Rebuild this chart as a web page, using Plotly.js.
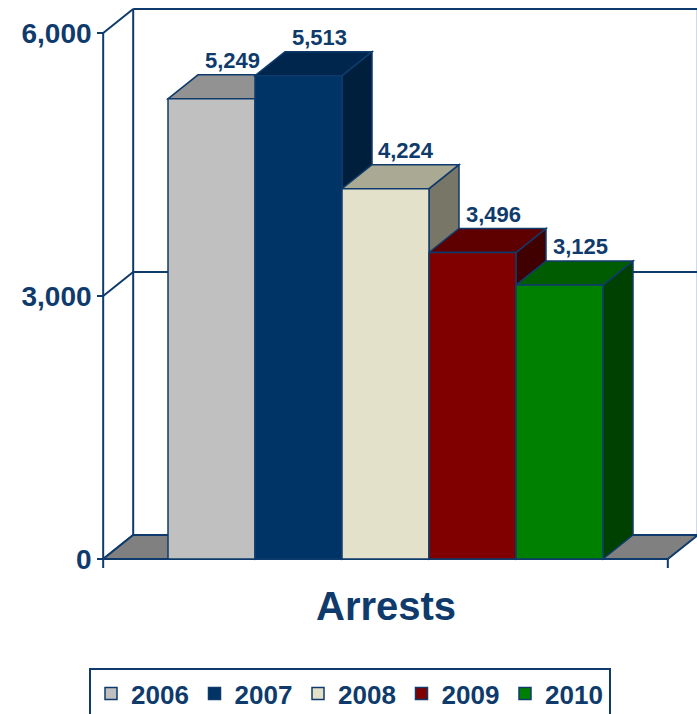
<!DOCTYPE html>
<html>
<head>
<meta charset="utf-8">
<script src="https://cdn.plot.ly/plotly-3.0.1.min.js"></script>
<style>html,body{margin:0;padding:0;background:#fff;}#chart{width:697px;height:714px;}</style>
</head>
<body>
<div id="chart"></div>
<script>
// ---------- data ----------
const years = ['2006', '2007', '2008', '2009', '2010'];
const arrests = [5249, 5513, 4224, 3496, 3125];
const categories = ['Arrests'];
const yTickVals = [0, 3000, 6000];
const yTickText = ['0', '3,000', '6,000'];

// ---------- styles ----------
const navy = '#0F3B6C';
const frontColors = ['#C0C0C0', '#003366', '#E3E1C9', '#800000', '#008000'];
const topColors   = ['#929292', '#00264D', '#AAA993', '#5E0000', '#005C00'];
const sideColors  = ['#6E6E6E', '#001F3D', '#787666', '#400000', '#004000'];
const floorColor = '#808080';
const fontFam = '"Liberation Sans", Arial, sans-serif';

// ---------- geometry (layout) ----------
const W = 697, H = 714;
const pxPerCat = 87;           // pixels per category unit
const bar0Px = 211.5;          // pixel centre of first bar front
const zeroPx = 559;            // pixel of value 0
const pxPerUnit = 526 / 6000;  // pixels per value unit
const xr = [-bar0Px / pxPerCat, (W - bar0Px) / pxPerCat];
const yr = [(zeroPx - H) / pxPerUnit, zeroPx / pxPerUnit];
const GAP = 0.745;             // category-unit gap at ends of floor
const DX = 30 / pxPerCat;      // depth offset x (category units)
const DY = 24 / pxPerUnit;     // depth offset y (value units)
const yMax = yTickVals[yTickVals.length - 1];
const n = arrests.length;
const frontL = -0.5 - GAP;
const frontR = (n - 1) + 0.5 + GAP;

function poly(pts) {
  return 'M' + pts.map(p => p[0] + ',' + p[1]).join(' L') + ' Z';
}

const shapes = [];
const lineW = 2;
// back wall frame and gridlines
yTickVals.forEach(v => {
  shapes.push({type: 'line', xref: 'x', yref: 'y', layer: 'below',
    x0: frontL + DX, y0: v + DY, x1: frontR + DX, y1: v + DY,
    line: {color: navy, width: lineW}});
  shapes.push({type: 'line', xref: 'x', yref: 'y', layer: 'below',
    x0: frontL, y0: v, x1: frontL + DX, y1: v + DY,
    line: {color: navy, width: lineW}});
});
shapes.push({type: 'line', xref: 'x', yref: 'y', layer: 'below',
  x0: frontL + DX, y0: DY, x1: frontL + DX, y1: yMax + DY, line: {color: navy, width: lineW}});
shapes.push({type: 'line', xref: 'x', yref: 'y', layer: 'below',
  x0: frontR + DX, y0: DY, x1: frontR + DX, y1: yMax + DY, line: {color: navy, width: lineW}});
// front value axis line
shapes.push({type: 'line', xref: 'x', yref: 'y', layer: 'below',
  x0: frontL, y0: 0, x1: frontL, y1: yMax, line: {color: navy, width: lineW}});
// floor
shapes.push({type: 'path', xref: 'x', yref: 'y', layer: 'below',
  path: poly([[frontL, 0], [frontR, 0], [frontR + DX, DY], [frontL + DX, DY]]),
  fillcolor: floorColor, line: {color: navy, width: lineW}});
// category axis end ticks
[frontL, frontR].forEach(x => {
  shapes.push({type: 'line', xref: 'x', yref: 'y', layer: 'below',
    x0: x, y0: 0, x1: x, y1: -9 / pxPerUnit, line: {color: navy, width: lineW}});
});
// bar side and top faces
arrests.forEach((v, i) => {
  const l = i - 0.5, r = i + 0.5;
  shapes.push({type: 'path', xref: 'x', yref: 'y', layer: 'below',
    path: poly([[r, 0], [r, v], [r + DX, v + DY], [r + DX, DY]]),
    fillcolor: sideColors[i], line: {color: navy, width: 1.5}});
  shapes.push({type: 'path', xref: 'x', yref: 'y', layer: 'below',
    path: poly([[l, v], [r, v], [r + DX, v + DY], [l + DX, v + DY]]),
    fillcolor: topColors[i], line: {color: navy, width: 1.5}});
});

// front faces as bar traces
const traces = years.map((yr_, i) => ({
  type: 'bar', name: yr_, x: [i], y: [arrests[i]], width: [1],
  marker: {color: frontColors[i], line: {color: navy, width: 1.5}},
  hoverinfo: 'skip', showlegend: true
}));

// value labels
const annotations = arrests.map((v, i) => ({
  xref: 'x', yref: 'y', x: i + 0.24, y: v + DY,
  text: v.toLocaleString('en-US'), showarrow: false,
  xanchor: 'center', yanchor: 'bottom', yshift: 0,
  font: {family: fontFam, size: 22, weight: 'bold', color: navy}
}));
// category label
annotations.push({
  xref: 'x', yref: 'paper', x: (frontL + frontR) / 2, y: 1 - 606 / H,
  text: categories[0], showarrow: false, xanchor: 'center', yanchor: 'middle',
  font: {family: fontFam, size: 40, weight: 'bold', color: navy}
});

const layout = {
  width: W, height: H,
  margin: {l: 0, r: 0, t: 0, b: 0, autoexpand: false},
  paper_bgcolor: '#ffffff', plot_bgcolor: '#ffffff',
  barmode: 'overlay',
  showlegend: true,
  xaxis: {visible: false, range: xr, fixedrange: true},
  yaxis: {
    range: yr, anchor: 'free', position: (frontL - xr[0]) / (xr[1] - xr[0]),
    side: 'left', showgrid: false, zeroline: false, showline: false,
    ticks: 'outside', ticklen: 6, tickwidth: 2, tickcolor: navy,
    tickmode: 'array', tickvals: yTickVals, ticktext: yTickText,
    tickfont: {family: fontFam, size: 28, weight: 'bold', color: navy},
    automargin: false, fixedrange: true
  },
  legend: {
    orientation: 'h', xref: 'container', yref: 'container',
    x: 89 / W, y: 1 - 668 / H, xanchor: 'left', yanchor: 'top',
    bordercolor: navy, borderwidth: 2, bgcolor: '#ffffff',
    font: {family: fontFam, size: 26, weight: 'bold', color: navy},
    itemwidth: 30, entrywidth: 58.5, traceorder: 'normal'
  },
  shapes: shapes,
  annotations: annotations
};

Plotly.newPlot('chart', traces, layout, {displayModeBar: false, staticPlot: true});
</script>
</body>
</html>
